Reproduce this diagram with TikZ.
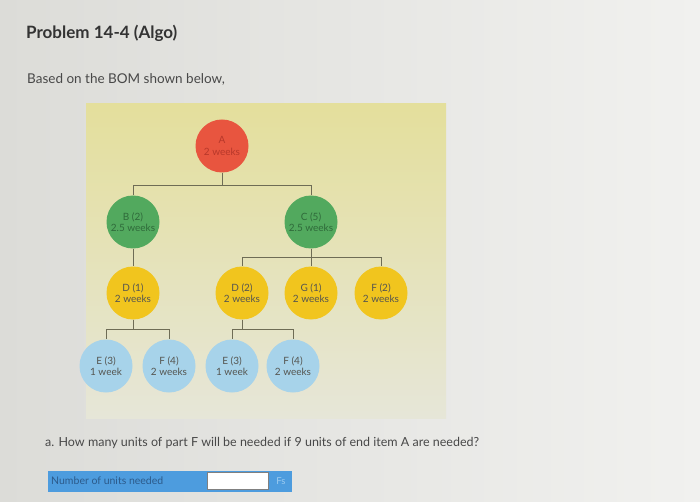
\documentclass[tikz,border=0pt]{standalone}
\usepackage{fontspec}
\setmainfont{Lato}
\usepackage{tikz}
\usetikzlibrary{arrows}
\usetikzlibrary{calc}
\definecolor{bgLeft}{HTML}{DCDCD8}
\definecolor{bgRight}{HTML}{F1F1EF}
\definecolor{panelTop}{HTML}{E4DF9C}
\definecolor{panelBottom}{HTML}{E6E6D8}
\definecolor{itemRed}{HTML}{E8553F}
\definecolor{itemRedText}{HTML}{B8382A}
\definecolor{itemGreen}{HTML}{52A95E}
\definecolor{itemGreenText}{HTML}{2F6A3A}
\definecolor{itemYellow}{HTML}{F1C51E}
\definecolor{itemBlue}{HTML}{A7D3EA}
\definecolor{partText}{HTML}{555550}
\definecolor{linkGrey}{HTML}{6E6C55}
\definecolor{titleGrey}{HTML}{333333}
\definecolor{bodyGrey}{HTML}{484848}
\definecolor{fieldBlue}{HTML}{4D9CDE}
\definecolor{fieldText}{HTML}{2C5A8A}
\definecolor{unitText}{HTML}{9CCBF0}

\begin{document}
\begin{tikzpicture}[x=1pt,y=-1pt,-,auto]
		\tikzstyle{part}=[circle,minimum size=53pt,inner sep=0pt,align=center,
			font=\fontsize{10}{11.5}\selectfont,text=partText];
		\tikzstyle{enditem}=[part,fill=itemRed,text=itemRedText];
		\tikzstyle{levelone}=[part,fill=itemGreen,text=itemGreenText];
		\tikzstyle{leveltwo}=[part,fill=itemYellow];
		\tikzstyle{levelthree}=[part,fill=itemBlue];
		\tikzstyle{link}=[draw=linkGrey,line width=1pt];
		\tikzstyle{plain}=[anchor=base west,inner sep=0pt,text=bodyGrey];

		\fill[left color=bgLeft,right color=bgRight](0,0)rectangle(700,502);
		\useasboundingbox(0,0)rectangle(700,502);
		\shade[top color=panelTop,bottom color=panelBottom](86,104)rectangle(446,418);

		\node[plain,text=titleGrey,font=\bfseries\fontsize{17}{20}\selectfont](title) at (26,39){Problem 14-4 (Algo)};
		\node[plain,font=\fontsize{13.5}{16}\selectfont](intro) at (27,84){Based on the BOM shown below,};

		\node[enditem](a) at (222,146){A\\2 weeks};
		\node[levelone](b) at (133,222){B (2)\\2.5 weeks};
		\node[levelone,right of=b,node distance=178pt](c){C (5)\\2.5 weeks};
		\node[leveltwo,below of=b,node distance=71pt](d1){D (1)\\2 weeks};
		\node[leveltwo](d2) at (242,293){D (2)\\2 weeks};
		\node[leveltwo,right of=d2,node distance=69pt](g1){G (1)\\2 weeks};
		\node[leveltwo,right of=g1,node distance=70pt](f2){F (2)\\2 weeks};
		\node[levelthree](e1) at (106,366){E (3)\\1 week};
		\node[levelthree,right of=e1,node distance=63pt](f4a){F (4)\\2 weeks};
		\node[levelthree](e2) at (232,366){E (3)\\1 week};
		\node[levelthree,right of=e2,node distance=61pt](f4b){F (4)\\2 weeks};

		\draw[link](a)--+(0,40)-|(b);
		\draw[link](a)--+(0,40)-|(c);
		\draw[link](b)--(d1);
		\draw[link](c)--+(0,35)-|(d2);
		\draw[link](c)--(g1);
		\draw[link](c)--+(0,35)-|(f2);
		\draw[link](d1)--+(0,36)-|(e1);
		\draw[link](d1)--+(0,36)-|(f4a);
		\draw[link](d2)--+(0,36)-|(e2);
		\draw[link](d2)--+(0,36)-|(f4b);

		\node[plain,font=\fontsize{12.5}{15}\selectfont](question) at (45,446){a. How many units of part F will be needed if 9 units of end item A are needed?};

		\node[fill=fieldBlue,minimum width=244pt,minimum height=21pt,inner sep=0pt](answerrow) at (170,481){};
		\node[anchor=west,inner sep=0pt,text=fieldText,font=\fontsize{10.5}{12}\selectfont](answerlabel) at (51,481){Number of units needed};
		\node[draw=gray,fill=white,minimum width=61pt,minimum height=17pt,inner sep=0pt](answerbox) at (238,481){};
		\node[inner sep=0pt,text=unitText,font=\fontsize{9.5}{11}\selectfont](answerunit) at (281,481){Fs};
	\end{tikzpicture}
\end{document}
